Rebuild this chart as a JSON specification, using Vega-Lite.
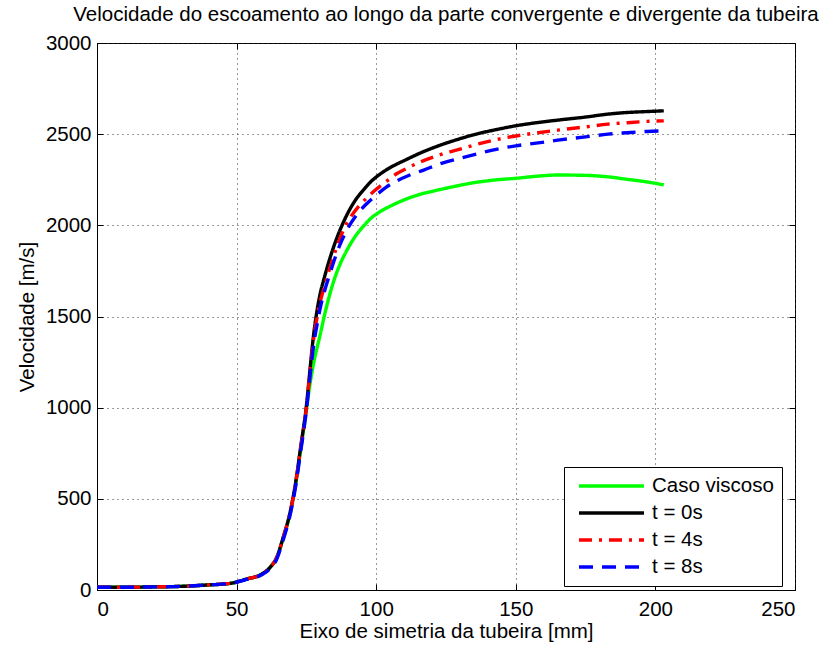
{
  "$schema": "https://vega.github.io/schema/vega-lite/v6.json",
  "width": 698,
  "height": 547,
  "autosize": {"type": "none"},
  "padding": {"left": 97, "top": 43, "right": 44, "bottom": 58},
  "background": "white",
  "config": {
    "view": {"stroke": "black", "strokeWidth": 1},
    "font": "Liberation Sans",
    "axis": {
      "labelFont": "Liberation Sans",
      "titleFont": "Liberation Sans",
      "labelFontSize": 20.5,
      "titleFontSize": 20.5,
      "titleFontWeight": "normal",
      "labelColor": "black",
      "titleColor": "black",
      "domainColor": "black",
      "tickColor": "black",
      "gridColor": "#333",
      "gridDash": [1, 4],
      "gridOpacity": 1
    }
  },
  "title": {
    "text": "Velocidade do escoamento ao longo da parte convergente e divergente da tubeira",
    "font": "Liberation Sans",
    "fontSize": 20.5,
    "fontWeight": "normal",
    "color": "black",
    "offset": 8,
    "anchor": "middle"
  },
  "data": {
    "values": [
      {"x": 0, "v": 15, "s": "Caso viscoso"}, {"x": 10, "v": 15, "s": "Caso viscoso"}, {"x": 20, "v": 17, "s": "Caso viscoso"}, {"x": 30, "v": 20, "s": "Caso viscoso"}, {"x": 40, "v": 28, "s": "Caso viscoso"}, {"x": 47.6, "v": 36, "s": "Caso viscoso"}, {"x": 53.6, "v": 60, "s": "Caso viscoso"}, {"x": 59, "v": 87, "s": "Caso viscoso"}, {"x": 62, "v": 124, "s": "Caso viscoso"}, {"x": 64.4, "v": 179, "s": "Caso viscoso"}, {"x": 66.7, "v": 285, "s": "Caso viscoso"}, {"x": 69, "v": 410, "s": "Caso viscoso"}, {"x": 71, "v": 565, "s": "Caso viscoso"}, {"x": 73, "v": 775, "s": "Caso viscoso"}, {"x": 75, "v": 990, "s": "Caso viscoso"}, {"x": 76, "v": 1100, "s": "Caso viscoso"}, {"x": 77, "v": 1195, "s": "Caso viscoso"}, {"x": 78, "v": 1275, "s": "Caso viscoso"}, {"x": 79, "v": 1340, "s": "Caso viscoso"}, {"x": 80, "v": 1405, "s": "Caso viscoso"}, {"x": 81.3, "v": 1495, "s": "Caso viscoso"}, {"x": 83, "v": 1600, "s": "Caso viscoso"}, {"x": 84.6, "v": 1685, "s": "Caso viscoso"}, {"x": 87, "v": 1785, "s": "Caso viscoso"}, {"x": 89.4, "v": 1860, "s": "Caso viscoso"}, {"x": 92, "v": 1928, "s": "Caso viscoso"}, {"x": 95.4, "v": 1995, "s": "Caso viscoso"}, {"x": 98, "v": 2037, "s": "Caso viscoso"}, {"x": 101.4, "v": 2075, "s": "Caso viscoso"}, {"x": 105, "v": 2105, "s": "Caso viscoso"}, {"x": 108.5, "v": 2130, "s": "Caso viscoso"}, {"x": 114, "v": 2162, "s": "Caso viscoso"}, {"x": 120.5, "v": 2188, "s": "Caso viscoso"}, {"x": 127, "v": 2210, "s": "Caso viscoso"}, {"x": 135, "v": 2234, "s": "Caso viscoso"}, {"x": 142, "v": 2248, "s": "Caso viscoso"}, {"x": 150, "v": 2258, "s": "Caso viscoso"}, {"x": 158, "v": 2270, "s": "Caso viscoso"}, {"x": 165, "v": 2276, "s": "Caso viscoso"}, {"x": 175, "v": 2274, "s": "Caso viscoso"}, {"x": 183, "v": 2266, "s": "Caso viscoso"}, {"x": 190, "v": 2252, "s": "Caso viscoso"}, {"x": 197, "v": 2238, "s": "Caso viscoso"}, {"x": 203, "v": 2222, "s": "Caso viscoso"},

      {"x": 0, "v": 15, "s": "t = 0s"}, {"x": 10, "v": 15, "s": "t = 0s"}, {"x": 20, "v": 17, "s": "t = 0s"}, {"x": 30, "v": 20, "s": "t = 0s"}, {"x": 40, "v": 28, "s": "t = 0s"}, {"x": 47.6, "v": 36, "s": "t = 0s"}, {"x": 53.6, "v": 60, "s": "t = 0s"}, {"x": 59, "v": 87, "s": "t = 0s"}, {"x": 62, "v": 124, "s": "t = 0s"}, {"x": 64.4, "v": 179, "s": "t = 0s"}, {"x": 66.7, "v": 289, "s": "t = 0s"}, {"x": 69, "v": 415, "s": "t = 0s"}, {"x": 71, "v": 575, "s": "t = 0s"}, {"x": 73, "v": 790, "s": "t = 0s"}, {"x": 75, "v": 1010, "s": "t = 0s"}, {"x": 76.3, "v": 1210, "s": "t = 0s"}, {"x": 77, "v": 1320, "s": "t = 0s"}, {"x": 78, "v": 1450, "s": "t = 0s"}, {"x": 79, "v": 1550, "s": "t = 0s"}, {"x": 80, "v": 1630, "s": "t = 0s"}, {"x": 81.1, "v": 1695, "s": "t = 0s"}, {"x": 83.5, "v": 1823, "s": "t = 0s"}, {"x": 86.4, "v": 1950, "s": "t = 0s"}, {"x": 88.8, "v": 2035, "s": "t = 0s"}, {"x": 91, "v": 2100, "s": "t = 0s"}, {"x": 93, "v": 2148, "s": "t = 0s"}, {"x": 95.5, "v": 2195, "s": "t = 0s"}, {"x": 97.8, "v": 2235, "s": "t = 0s"}, {"x": 100, "v": 2265, "s": "t = 0s"}, {"x": 102.6, "v": 2294, "s": "t = 0s"}, {"x": 106, "v": 2325, "s": "t = 0s"}, {"x": 110, "v": 2355, "s": "t = 0s"}, {"x": 116, "v": 2398, "s": "t = 0s"}, {"x": 123, "v": 2440, "s": "t = 0s"}, {"x": 130, "v": 2475, "s": "t = 0s"}, {"x": 137, "v": 2505, "s": "t = 0s"}, {"x": 143, "v": 2525, "s": "t = 0s"}, {"x": 150, "v": 2546, "s": "t = 0s"}, {"x": 158, "v": 2564, "s": "t = 0s"}, {"x": 165, "v": 2577, "s": "t = 0s"}, {"x": 175, "v": 2594, "s": "t = 0s"}, {"x": 183, "v": 2610, "s": "t = 0s"}, {"x": 190, "v": 2619, "s": "t = 0s"}, {"x": 197, "v": 2624, "s": "t = 0s"}, {"x": 203, "v": 2628, "s": "t = 0s"},

      {"x": 0, "v": 15, "s": "t = 4s"}, {"x": 10, "v": 15, "s": "t = 4s"}, {"x": 20, "v": 17, "s": "t = 4s"}, {"x": 30, "v": 20, "s": "t = 4s"}, {"x": 40, "v": 28, "s": "t = 4s"}, {"x": 47.6, "v": 36, "s": "t = 4s"}, {"x": 53.6, "v": 60, "s": "t = 4s"}, {"x": 59, "v": 87, "s": "t = 4s"}, {"x": 62, "v": 124, "s": "t = 4s"}, {"x": 64.4, "v": 179, "s": "t = 4s"}, {"x": 66.7, "v": 287, "s": "t = 4s"}, {"x": 69, "v": 412, "s": "t = 4s"}, {"x": 71, "v": 570, "s": "t = 4s"}, {"x": 73, "v": 782, "s": "t = 4s"}, {"x": 75, "v": 1000, "s": "t = 4s"}, {"x": 76.3, "v": 1195, "s": "t = 4s"}, {"x": 77, "v": 1300, "s": "t = 4s"}, {"x": 78, "v": 1420, "s": "t = 4s"}, {"x": 79, "v": 1510, "s": "t = 4s"}, {"x": 80, "v": 1585, "s": "t = 4s"}, {"x": 81, "v": 1640, "s": "t = 4s"}, {"x": 82, "v": 1695, "s": "t = 4s"}, {"x": 84.6, "v": 1823, "s": "t = 4s"}, {"x": 88, "v": 1965, "s": "t = 4s"}, {"x": 90.6, "v": 2040, "s": "t = 4s"}, {"x": 93.5, "v": 2100, "s": "t = 4s"}, {"x": 96.6, "v": 2150, "s": "t = 4s"}, {"x": 100, "v": 2198, "s": "t = 4s"}, {"x": 103.8, "v": 2243, "s": "t = 4s"}, {"x": 107, "v": 2280, "s": "t = 4s"}, {"x": 111, "v": 2313, "s": "t = 4s"}, {"x": 117, "v": 2355, "s": "t = 4s"}, {"x": 123, "v": 2388, "s": "t = 4s"}, {"x": 130, "v": 2418, "s": "t = 4s"}, {"x": 137, "v": 2448, "s": "t = 4s"}, {"x": 143, "v": 2470, "s": "t = 4s"}, {"x": 150, "v": 2490, "s": "t = 4s"}, {"x": 158, "v": 2508, "s": "t = 4s"}, {"x": 165, "v": 2522, "s": "t = 4s"}, {"x": 175, "v": 2540, "s": "t = 4s"}, {"x": 183, "v": 2555, "s": "t = 4s"}, {"x": 190, "v": 2563, "s": "t = 4s"}, {"x": 197, "v": 2570, "s": "t = 4s"}, {"x": 203, "v": 2573, "s": "t = 4s"},

      {"x": 0, "v": 15, "s": "t = 8s"}, {"x": 10, "v": 15, "s": "t = 8s"}, {"x": 20, "v": 17, "s": "t = 8s"}, {"x": 30, "v": 20, "s": "t = 8s"}, {"x": 40, "v": 28, "s": "t = 8s"}, {"x": 47.6, "v": 36, "s": "t = 8s"}, {"x": 53.6, "v": 58, "s": "t = 8s"}, {"x": 59, "v": 84, "s": "t = 8s"}, {"x": 62, "v": 118, "s": "t = 8s"}, {"x": 64.4, "v": 170, "s": "t = 8s"}, {"x": 66.7, "v": 275, "s": "t = 8s"}, {"x": 69, "v": 400, "s": "t = 8s"}, {"x": 71, "v": 555, "s": "t = 8s"}, {"x": 73, "v": 765, "s": "t = 8s"}, {"x": 75, "v": 985, "s": "t = 8s"}, {"x": 76.3, "v": 1170, "s": "t = 8s"}, {"x": 77, "v": 1270, "s": "t = 8s"}, {"x": 78, "v": 1385, "s": "t = 8s"}, {"x": 79, "v": 1470, "s": "t = 8s"}, {"x": 80, "v": 1550, "s": "t = 8s"}, {"x": 81.5, "v": 1640, "s": "t = 8s"}, {"x": 83, "v": 1714, "s": "t = 8s"}, {"x": 85, "v": 1810, "s": "t = 8s"}, {"x": 87, "v": 1893, "s": "t = 8s"}, {"x": 90, "v": 1988, "s": "t = 8s"}, {"x": 93, "v": 2058, "s": "t = 8s"}, {"x": 96.5, "v": 2117, "s": "t = 8s"}, {"x": 100.2, "v": 2168, "s": "t = 8s"}, {"x": 103.5, "v": 2208, "s": "t = 8s"}, {"x": 107.3, "v": 2243, "s": "t = 8s"}, {"x": 111.4, "v": 2272, "s": "t = 8s"}, {"x": 117, "v": 2303, "s": "t = 8s"}, {"x": 123, "v": 2338, "s": "t = 8s"}, {"x": 130, "v": 2368, "s": "t = 8s"}, {"x": 137, "v": 2395, "s": "t = 8s"}, {"x": 143, "v": 2417, "s": "t = 8s"}, {"x": 150, "v": 2436, "s": "t = 8s"}, {"x": 158, "v": 2452, "s": "t = 8s"}, {"x": 165, "v": 2467, "s": "t = 8s"}, {"x": 175, "v": 2485, "s": "t = 8s"}, {"x": 183, "v": 2500, "s": "t = 8s"}, {"x": 190, "v": 2508, "s": "t = 8s"}, {"x": 197, "v": 2515, "s": "t = 8s"}, {"x": 203, "v": 2518, "s": "t = 8s"}
    ]
  },
  "layer": [
    {
      "mark": {"type": "line", "strokeWidth": 3.4, "interpolate": "monotone"},
      "encoding": {
        "x": {
          "field": "x", "type": "quantitative",
          "scale": {"domain": [0, 250], "nice": false, "zero": false},
          "axis": {"title": "Eixo de simetria da tubeira [mm]", "values": [0, 50, 100, 150, 200, 250], "tickSize": -6, "labelPadding": 15, "titlePadding": 2, "grid": true}
        },
        "y": {
          "field": "v", "type": "quantitative",
          "scale": {"domain": [0, 3000], "nice": false},
          "axis": {"title": "Velocidade [m/s]", "format": "d", "values": [0, 500, 1000, 1500, 2000, 2500, 3000], "tickSize": -6, "labelPadding": 12, "titlePadding": 8, "grid": true}
        },
        "color": {
          "field": "s", "type": "nominal",
          "scale": {"domain": ["Caso viscoso", "t = 0s", "t = 4s", "t = 8s"], "range": ["#00ff00", "#000000", "#ff0000", "#0000ff"]},
          "legend": {
            "title": null, "orient": "none", "legendX": 467, "legendY": 424,
            "symbolType": "M-0.444,0H6.778", "symbolSize": 324, "symbolStrokeWidth": 3.5, "symbolFillColor": "transparent",
            "labelFontSize": 20.5, "labelFont": "Liberation Sans", "labelColor": "black",
            "strokeColor": "black", "fillColor": "white", "padding": 8,
            "rowPadding": 5, "labelOffset": 58
          }
        },
        "strokeDash": {
          "field": "s", "type": "nominal",
          "scale": {"domain": ["Caso viscoso", "t = 0s", "t = 4s", "t = 8s"], "range": [[1, 0], [1, 0], [13, 7, 3, 7], [14, 9]]},
          "legend": {
            "title": null, "orient": "none", "legendX": 467, "legendY": 424,
            "symbolType": "M-0.444,0H6.778", "symbolSize": 324, "symbolStrokeWidth": 3.5, "symbolFillColor": "transparent",
            "labelFontSize": 20.5, "labelFont": "Liberation Sans", "labelColor": "black",
            "strokeColor": "black", "fillColor": "white", "padding": 8,
            "rowPadding": 5, "labelOffset": 58
          }
        }
      }
    },
    {
      "mark": {"type": "line", "opacity": 0},
      "encoding": {
        "x": {"field": "x", "type": "quantitative", "axis": {"orient": "top", "title": null, "labels": false, "values": [0, 50, 100, 150, 200, 250], "tickSize": -6, "grid": false, "domain": false}},
        "y": {"field": "v", "type": "quantitative", "axis": {"orient": "right", "title": null, "labels": false, "values": [0, 500, 1000, 1500, 2000, 2500, 3000], "tickSize": -6, "grid": false, "domain": false}}
      }
    }
  ],
  "resolve": {"axis": {"x": "independent", "y": "independent"}}
}
